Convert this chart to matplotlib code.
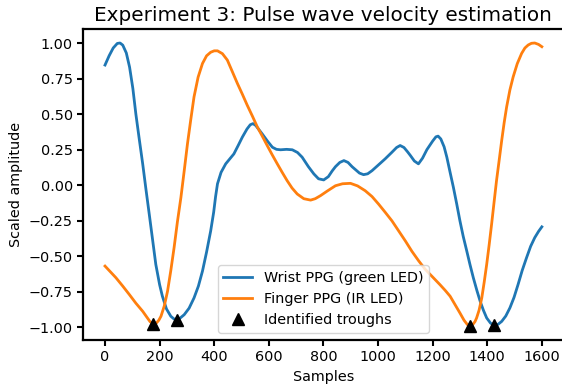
import numpy as np
import matplotlib
matplotlib.use("Agg")
import matplotlib.pyplot as plt

# values
wrist_x = [0, 15, 30, 45, 55, 65, 78, 90, 102, 113, 125, 138, 150, 162, 174, 186, 200,
           210, 225, 241, 252, 262, 275, 290, 308, 326, 342, 357, 372, 387, 398, 405, 412,
           425, 442, 457, 472, 488, 503, 520, 532, 542, 552, 564, 576, 595, 613, 628, 643,
           665, 686, 705, 722, 745, 765, 782, 801, 818, 832, 844, 860, 875, 890, 905, 917,
           932, 947, 962, 978, 1000, 1026, 1050, 1068, 1081, 1095, 1108, 1118, 1133, 1148,
           1163, 1179, 1200, 1212, 1220, 1230, 1242, 1252, 1264, 1276, 1288, 1300, 1312,
           1325, 1337, 1349, 1362, 1374, 1386, 1398, 1412, 1425, 1440, 1453, 1468, 1483,
           1498, 1513, 1528, 1544, 1559, 1574, 1588, 1600]
wrist_y = [0.845, 0.91, 0.965, 0.997, 1.0, 0.985, 0.93, 0.83, 0.68, 0.50, 0.33, 0.15,
           -0.03, -0.204, -0.38, -0.557, -0.70, -0.78, -0.87, -0.922, -0.94, -0.946,
           -0.935, -0.911, -0.865, -0.793, -0.71, -0.604, -0.47, -0.322, -0.19, -0.08,
           0.01, 0.09, 0.15, 0.185, 0.22, 0.28, 0.338, 0.395, 0.425, 0.433, 0.42, 0.39,
           0.36, 0.31, 0.267, 0.252, 0.249, 0.252, 0.249, 0.23, 0.197, 0.13, 0.079, 0.045,
           0.037, 0.06, 0.10, 0.13, 0.16, 0.173, 0.16, 0.13, 0.11, 0.085, 0.074, 0.08,
           0.102, 0.14, 0.185, 0.23, 0.265, 0.279, 0.265, 0.235, 0.21, 0.17, 0.150, 0.19,
           0.25, 0.31, 0.34, 0.345, 0.325, 0.27, 0.197, 0.09, -0.015, -0.13, -0.251,
           -0.36, -0.463, -0.56, -0.651, -0.74, -0.816, -0.88, -0.934, -0.97, -0.986,
           -0.978, -0.958, -0.92, -0.863, -0.79, -0.698, -0.60, -0.51, -0.43, -0.369,
           -0.325, -0.293]

finger_x = [0, 20, 40, 65, 89, 113, 138, 152, 165, 177, 188, 197, 205, 217, 229, 241,
            253, 265, 278, 290, 302, 314, 326, 341, 357, 372, 387, 400, 412, 430, 448,
            466, 485, 503, 521, 540, 558, 576, 594, 612, 631, 649, 667, 685, 704, 728,
            753, 770, 789, 815, 844, 870, 899, 925, 953, 978, 1002, 1026, 1051, 1075,
            1100, 1124, 1148, 1172, 1197, 1227, 1246, 1264, 1282, 1300, 1315, 1327, 1337,
            1347, 1355, 1361, 1370, 1380, 1389, 1398, 1407, 1416, 1425, 1434, 1444, 1453,
            1462, 1471, 1483, 1495, 1510, 1526, 1538, 1550, 1562, 1574, 1588, 1600]
finger_y = [-0.569, -0.61, -0.651, -0.71, -0.769, -0.83, -0.887, -0.925, -0.96, -0.977,
            -0.97, -0.95, -0.922, -0.85, -0.746, -0.60, -0.439, -0.26, -0.086, 0.10,
            0.291, 0.46, 0.621, 0.76, 0.856, 0.91, 0.935, 0.945, 0.945, 0.925, 0.88, 0.80,
            0.715, 0.64, 0.562, 0.485, 0.409, 0.345, 0.279, 0.215, 0.150, 0.09, 0.032,
            -0.02, -0.062, -0.095, -0.105, -0.095, -0.074, -0.04, -0.004, 0.01, 0.013,
            -0.005, -0.039, -0.08, -0.133, -0.19, -0.251, -0.32, -0.392, -0.465, -0.53,
            -0.59, -0.64, -0.70, -0.74, -0.781, -0.84, -0.899, -0.95, -0.98, -0.99, -0.98,
            -0.96, -0.934, -0.88, -0.793, -0.68, -0.557, -0.42, -0.274, -0.12, 0.032, 0.18,
            0.315, 0.44, 0.55, 0.67, 0.762, 0.855, 0.927, 0.965, 0.986, 0.998, 1.0, 0.99,
            0.974]

trough_x = [177, 262, 1337, 1425]
trough_y = [-0.977, -0.946, -0.99, -0.986]

fs = 10.4

fig = plt.figure(figsize=(5.62, 3.9), dpi=100)
ax = fig.add_axes([0.148, 0.128, 0.855, 0.798])

ax.plot(wrist_x, wrist_y, color="#1f77b4", lw=2, label="Wrist PPG (green LED)")
ax.plot(finger_x, finger_y, color="#ff7f0e", lw=2, label="Finger PPG (IR LED)")
ax.plot(trough_x, trough_y, "^", color="black", ms=9, label="Identified troughs")

ax.set_xticks([0, 200, 400, 600, 800, 1000, 1200, 1400, 1600])
ax.set_yticks([-1.0, -0.75, -0.5, -0.25, 0.0, 0.25, 0.5, 0.75, 1.0])
ax.tick_params(labelsize=fs, width=1.5, length=4)
for s in ax.spines.values():
    s.set_linewidth(1.6)

ax.set_xlabel("Samples", fontsize=fs)
ax.set_ylabel("Scaled amplitude", fontsize=fs)
ax.set_title("Experiment 3: Pulse wave velocity estimation", fontsize=14.4)
ax.legend(loc="lower center", fontsize=fs)

fig.savefig("out.png", dpi=100)
